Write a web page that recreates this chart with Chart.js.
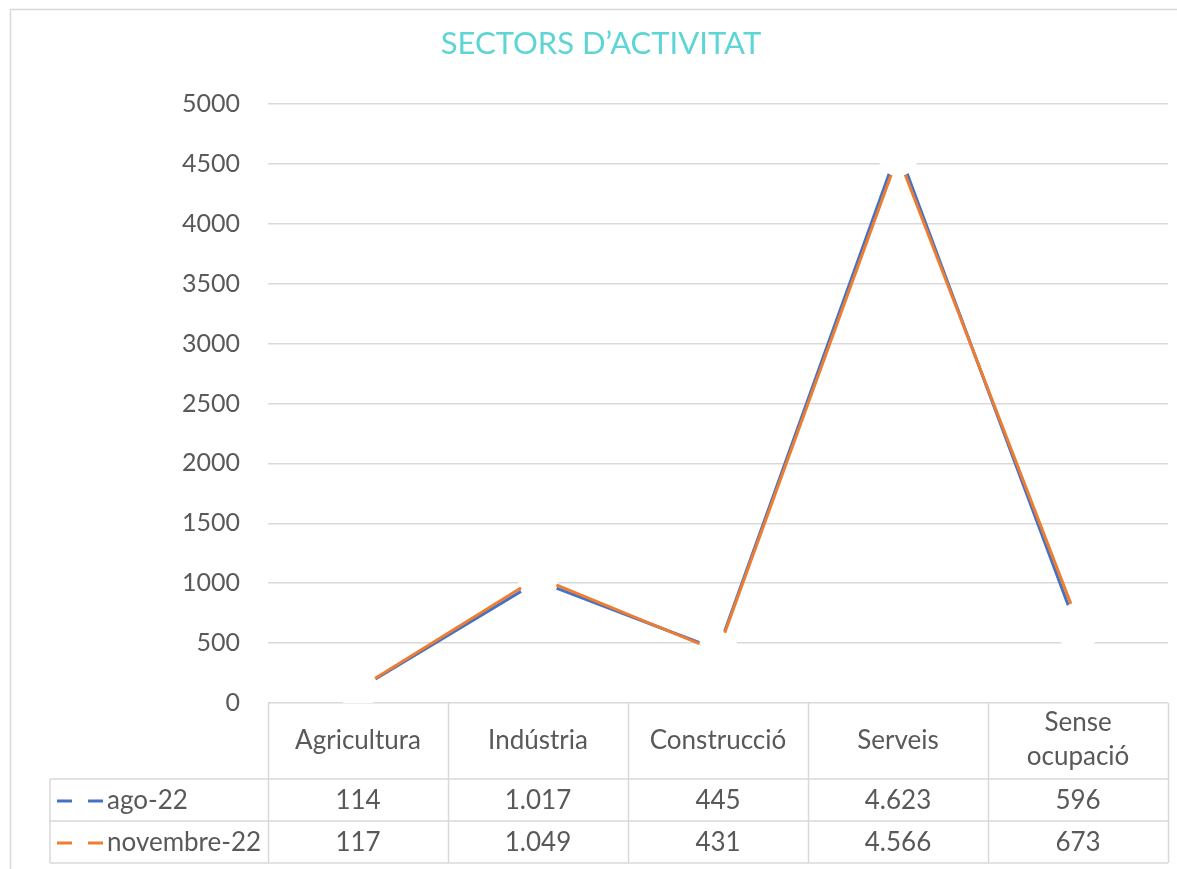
<!DOCTYPE html>
<html>
<head>
<meta charset="utf-8">
<script src="https://cdn.jsdelivr.net/npm/chart.js@4"></script>
<style>
    body { margin: 0; background: #fff; }
    canvas { display: block; }
</style>
</head>
<body>
<canvas id="sectorsChart" width="1177" height="869"></canvas>
<script>
const categories = ['Agricultura', 'Indústria', 'Construcció', 'Serveis', 'Sense ocupació'];
const seriesNames = ['ago-22', 'novembre-22'];
const ago22 = [114, 1017, 445, 4623, 596];
const novembre22 = [117, 1049, 431, 4566, 673];
const yTicks = [0, 500, 1000, 1500, 2000, 2500, 3000, 3500, 4000, 4500, 5000];

const FONT = 'Lato, "Open Sans", sans-serif';
const TEXT = '#595959';
const GRID = '#d9d9d9';
const BLUE = '#4472C4';
const ORANGE = '#ED7D31';

// 1017 -> "1.017"
function fmt(v) {
    return String(v).replace(/\B(?=(\d{3})+(?!\d))/g, '.');
}

const frame = {
    id: 'frame',
    beforeDraw(chart) {
        const ctx = chart.ctx;
        ctx.save();
        ctx.fillStyle = '#fff';
        ctx.fillRect(0, 0, chart.width, chart.height);
        ctx.strokeStyle = GRID;
        ctx.lineWidth = 1.5;
        ctx.strokeRect(10.5, 9.5, chart.width + 20, chart.height + 20);
        // title
        ctx.fillStyle = '#5DD5D5';
        ctx.font = '31px ' + FONT;
        ctx.textAlign = 'center';
        ctx.textBaseline = 'alphabetic';
        ctx.fillText('SECTORS D\u2019ACTIVITAT', 601, 54);
        ctx.restore();
    }
};

// data table under the plot, columns taken from the x scale
const dataTable = {
    id: 'dataTable',
    afterDraw(chart) {
        const ctx = chart.ctx;
        const area = chart.chartArea;
        const xs = chart.scales.x;
        const colW = (area.right - area.left) / categories.length;
        const top = area.bottom;
        const headBottom = 779;
        const rowH = 42;
        const bottom = headBottom + rowH * 2;
        const legLeft = 50;

        ctx.save();
        ctx.strokeStyle = GRID;
        ctx.lineWidth = 1.5;
        ctx.beginPath();
        for (let i = 0; i <= categories.length; i++) {
            const x = Math.round(area.left + i * colW) + 0.5;
            ctx.moveTo(x, top);
            ctx.lineTo(x, bottom);
        }
        ctx.moveTo(legLeft, headBottom);
        ctx.lineTo(legLeft, bottom);
        for (let r = 0; r <= 2; r++) {
            const y = headBottom + r * rowH;
            ctx.moveTo(legLeft, y);
            ctx.lineTo(area.right, y);
        }
        ctx.stroke();

        ctx.fillStyle = TEXT;
        ctx.font = '26px ' + FONT;
        ctx.textAlign = 'center';
        ctx.textBaseline = 'middle';
        categories.forEach((c, i) => {
            const cx = xs.getPixelForValue(i);
            const words = c.split(' ');
            if (words.length > 1) {
                ctx.fillText(words[0], cx, 723);
                ctx.fillText(words.slice(1).join(' '), cx, 757);
            } else {
                ctx.fillText(c, cx, 741);
            }
        });

        const rows = [ago22, novembre22];
        const colors = [BLUE, ORANGE];
        rows.forEach((vals, r) => {
            const cy = headBottom + r * rowH + rowH / 2 + 1;
            vals.forEach((v, i) => {
                ctx.fillText(fmt(v), xs.getPixelForValue(i), cy);
            });
            // legend key
            ctx.strokeStyle = colors[r];
            ctx.lineWidth = 3;
            ctx.beginPath();
            ctx.moveTo(57, cy);
            ctx.lineTo(72, cy);
            ctx.moveTo(88, cy);
            ctx.lineTo(103, cy);
            ctx.stroke();
            ctx.textAlign = 'left';
            ctx.fillText(seriesNames[r], 107, cy);
            ctx.textAlign = 'center';
        });
        ctx.restore();
    }
};

const ctxSectors = document.getElementById('sectorsChart').getContext('2d');
const sectorsChart = new Chart(ctxSectors, {
    type: 'line',
    data: {
        labels: categories,
        datasets: [{
            label: seriesNames[0],
            data: ago22,
            borderColor: BLUE,
            borderWidth: 3,
            pointRadius: 20,
            pointBackgroundColor: '#fff',
            pointBorderWidth: 0,
            order: 1,
            tension: 0
        }, {
            label: seriesNames[1],
            data: novembre22,
            borderColor: ORANGE,
            borderWidth: 3,
            pointRadius: 20,
            pointBackgroundColor: '#fff',
            pointBorderWidth: 0,
            order: 0,
            tension: 0
        }]
    },
    options: {
        responsive: false,
        animation: false,
        events: [],
        layout: {
            autoPadding: false,
            padding: { left: 0, right: 9, top: 104, bottom: 158 }
        },
        scales: {
            x: {
                offset: true,
                ticks: { display: false },
                grid: { display: false },
                border: { display: false }
            },
            y: {
                min: 0,
                max: 5000,
                afterFit(scale) { scale.width = 268; },
                afterBuildTicks(scale) { scale.ticks = yTicks.map(v => ({ value: v })); },
                ticks: {
                    color: TEXT,
                    padding: 28,
                    font: { family: FONT, size: 25 },
                    callback: v => String(v)
                },
                grid: { color: GRID, lineWidth: 1.5, drawTicks: false },
                border: { display: false }
            }
        },
        plugins: {
            legend: { display: false },
            tooltip: { enabled: false }
        }
    },
    plugins: [frame, dataTable]
});
</script>
</body>
</html>
